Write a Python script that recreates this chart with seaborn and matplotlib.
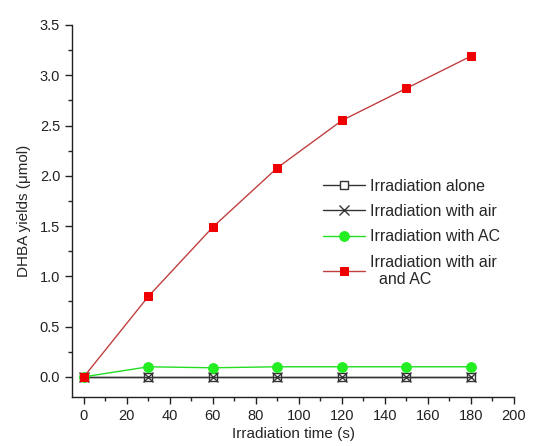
import pandas as pd
import matplotlib.pyplot as plt
import seaborn as sns
from matplotlib.ticker import MultipleLocator

# irradiation time (s)
time_s = [0, 30, 60, 90, 120, 150, 180]

# DHBA yields (umol)
irr_alone = [0, 0, 0, 0, 0, 0, 0]
irr_air = [0, 0, 0, 0, 0, 0, 0]
irr_ac = [0, 0.10, 0.09, 0.10, 0.10, 0.10, 0.10]
irr_air_ac = [0, 0.80, 1.49, 2.08, 2.55, 2.87, 3.19]

labels = ["Irradiation alone", "Irradiation with air",
          "Irradiation with AC", "Irradiation with air\n  and AC"]

df = pd.DataFrame({
    "time": time_s * 4,
    "yield": irr_alone + irr_air + irr_ac + irr_air_ac,
    "series": sum([[l] * len(time_s) for l in labels], []),
})

sns.set_style("ticks")
plt.rcParams['font.family'] = ['Liberation Sans', 'DejaVu Sans']

fig = plt.figure(figsize=(5.39, 4.46), dpi=100)
ax = fig.add_axes([0.1336, 0.110, 0.82, 0.834])

styles = [
    dict(color="#333333", marker="s", mfc="white", mec="#333333", ms=6, mew=1.0),
    dict(color="#333333", marker="x", mec="#333333", ms=7, mew=1.0),
    dict(color="#22dd22", marker="o", mfc="#22ee22", mec="#22ee22", ms=7),
    dict(color="#c04040", marker="s", mfc="#ee0000", mec="#ee0000", ms=6),
]

for lab, st in zip(labels, styles):
    sub = df[df["series"] == lab]
    sns.lineplot(data=sub, x="time", y="yield", ax=ax, label=lab,
                 linewidth=1.0, **st)

ax.set_xlim(-5.5, 200)
ax.set_ylim(-0.2, 3.5)
ax.xaxis.set_major_locator(MultipleLocator(20))
ax.xaxis.set_minor_locator(MultipleLocator(10))
ax.yaxis.set_major_locator(MultipleLocator(0.5))
ax.yaxis.set_minor_locator(MultipleLocator(0.25))
ax.tick_params(which="major", length=5, width=1, labelsize=10.5, colors="#222222")
ax.tick_params(which="minor", length=3, width=1)
ax.yaxis.set_major_formatter(plt.FormatStrFormatter("%.1f"))
for s in ["top", "right"]:
    ax.spines[s].set_visible(False)
for s in ["left", "bottom"]:
    ax.spines[s].set_linewidth(1.0)
    ax.spines[s].set_color("#222222")

ax.set_xlabel("Irradiation time (s)", fontsize=11, labelpad=3)
ax.set_ylabel("DHBA yields (μmol)", fontsize=11, labelpad=6)

ax.legend(loc="upper left", bbox_to_anchor=(0.568, 0.587), frameon=False,
          fontsize=11.5, handlelength=2.6, handletextpad=0.35,
          labelspacing=0.65, borderpad=0, borderaxespad=0)

fig.savefig("out.png", dpi=100)
